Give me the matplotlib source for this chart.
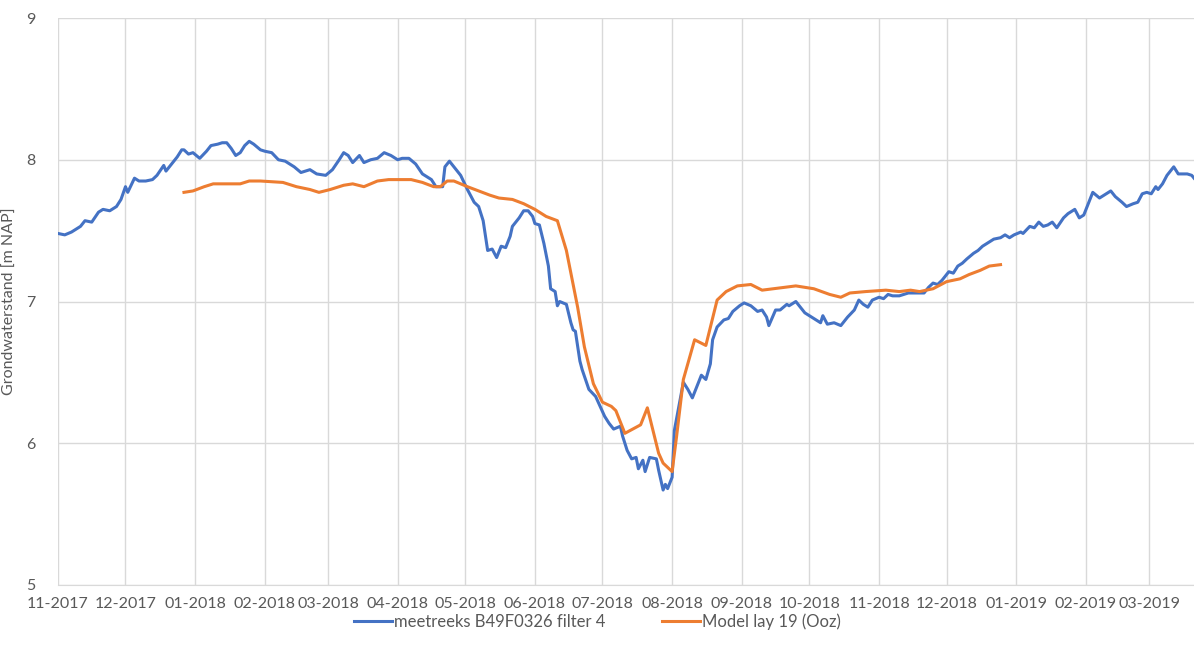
"""Grondwaterstand: meetreeks B49F0326 filter 4 vs. model lay 19 (Ooz)."""

import matplotlib
matplotlib.use("Agg")
import matplotlib.pyplot as plt
import matplotlib.dates as mdates
import numpy as np
import pandas as pd

START = pd.Timestamp("2017-11-01")
END = pd.Timestamp("2019-03-21")

# measured series: days since START, level [m NAP]
meas_day = [
    0, 3, 6, 10, 12, 15, 18, 20, 23, 26, 28, 30, 31, 34, 36, 39, 42, 44, 47, 48,
    51, 53, 55, 56, 58, 60, 63, 66, 68, 71, 73, 75, 77, 79, 81, 83, 85, 87, 90, 92,
    95, 98, 101, 105, 108, 112, 115, 119, 122, 125, 127, 129, 131, 134, 136, 139,
    142, 145, 148, 151, 153, 156, 159, 162, 166, 168, 171, 172, 174, 176, 179, 182,
    185, 187, 189, 191, 193, 195, 197, 199, 201, 202, 205, 207, 209, 211, 212, 214,
    216, 218, 219, 221, 222, 223, 226, 228, 229, 230, 232, 233, 236, 239, 241, 243,
    245, 247, 250, 251, 253, 255, 257, 258, 260, 261, 263, 266, 267, 269, 270, 271,
    273, 274, 276, 278, 280, 282, 284, 286, 288, 290, 291, 293, 296, 298, 300, 303,
    305, 308, 311, 313, 315, 316, 319, 321, 324, 325, 328, 329, 332, 334, 336, 339,
    340, 342, 345, 348, 351, 354, 356, 358, 360, 362, 365, 367, 369, 371, 374, 376,
    378, 382, 385, 387, 389, 391, 393, 396, 398, 400, 402, 404, 407, 409, 411, 413,
    416, 419, 421, 423, 425, 428, 429, 432, 434, 436, 438, 440, 442, 444, 447, 449,
    452, 454, 456, 458, 460, 463, 465, 468, 470, 473, 475, 478, 480, 482, 484, 486,
    488, 489, 491, 493, 496, 498, 502, 504, 505,
]
meas_level = [
    7.48, 7.47, 7.49, 7.53, 7.57, 7.56, 7.63, 7.65, 7.64, 7.67, 7.72, 7.81, 7.77, 7.87,
    7.85, 7.85, 7.86, 7.89, 7.96, 7.92, 7.98, 8.02, 8.07, 8.07, 8.04, 8.05, 8.01, 8.06,
    8.10, 8.11, 8.12, 8.12, 8.08, 8.03, 8.05, 8.10, 8.13, 8.11, 8.07, 8.06, 8.05, 8.00,
    7.99, 7.95, 7.91, 7.93, 7.90, 7.89, 7.93, 8.00, 8.05, 8.03, 7.98, 8.03, 7.98, 8.00,
    8.01, 8.05, 8.03, 8.00, 8.01, 8.01, 7.97, 7.90, 7.86, 7.81, 7.81, 7.95, 7.99, 7.95,
    7.89, 7.79, 7.70, 7.67, 7.57, 7.36, 7.37, 7.31, 7.39, 7.38, 7.46, 7.53, 7.59, 7.64,
    7.64, 7.60, 7.55, 7.54, 7.41, 7.25, 7.09, 7.07, 6.97, 7.00, 6.98, 6.85, 6.80, 6.79,
    6.58, 6.52, 6.38, 6.33, 6.26, 6.19, 6.14, 6.10, 6.12, 6.05, 5.95, 5.89, 5.90, 5.82,
    5.88, 5.80, 5.90, 5.89, 5.81, 5.67, 5.71, 5.68, 5.76, 6.09, 6.26, 6.43, 6.38, 6.32,
    6.40, 6.48, 6.45, 6.56, 6.73, 6.82, 6.87, 6.88, 6.93, 6.97, 6.99, 6.97, 6.93, 6.94,
    6.89, 6.83, 6.94, 6.94, 6.98, 6.97, 7.00, 6.98, 6.92, 6.90, 6.88, 6.85, 6.90, 6.84,
    6.85, 6.83, 6.89, 6.94, 7.01, 6.98, 6.96, 7.01, 7.03, 7.02, 7.05, 7.04, 7.04, 7.05,
    7.06, 7.06, 7.06, 7.10, 7.13, 7.12, 7.15, 7.21, 7.20, 7.25, 7.27, 7.30, 7.34, 7.36,
    7.39, 7.41, 7.44, 7.45, 7.47, 7.45, 7.47, 7.49, 7.48, 7.53, 7.52, 7.56, 7.53, 7.54,
    7.56, 7.52, 7.59, 7.62, 7.65, 7.59, 7.61, 7.69, 7.77, 7.73, 7.75, 7.78, 7.74, 7.70,
    7.67, 7.69, 7.70, 7.76, 7.77, 7.76, 7.81, 7.79, 7.83, 7.89, 7.95, 7.90, 7.90, 7.89,
    7.87,
]

# model series: days since START, level [m NAP]
model_day = [
    56, 60, 65, 69, 73, 81, 85, 90, 100, 106, 112, 116, 121, 127, 131, 136, 142, 147,
    152, 157, 162, 167, 170, 173, 176, 182, 187, 192, 196, 202, 207, 212, 217, 222,
    226, 231, 234, 238, 242, 246, 248, 252, 259, 262, 267, 269, 273, 275, 278, 283,
    288, 293, 297, 302, 308, 313, 318, 328, 336, 343, 348, 352, 359, 368, 374, 379,
    383, 389, 395, 401, 405, 410, 414, 419,
]
model_level = [
    7.77, 7.78, 7.81, 7.83, 7.83, 7.83, 7.85, 7.85, 7.84, 7.81, 7.79, 7.77, 7.79, 7.82,
    7.83, 7.81, 7.85, 7.86, 7.86, 7.86, 7.84, 7.81, 7.81, 7.85, 7.85, 7.81, 7.78, 7.75,
    7.73, 7.72, 7.69, 7.65, 7.60, 7.57, 7.36, 6.96, 6.68, 6.42, 6.29, 6.26, 6.23, 6.07,
    6.13, 6.25, 5.93, 5.86, 5.80, 6.05, 6.45, 6.73, 6.69, 7.01, 7.07, 7.11, 7.12, 7.08,
    7.09, 7.11, 7.09, 7.05, 7.03, 7.06, 7.07, 7.08, 7.07, 7.08, 7.07, 7.09, 7.14, 7.16,
    7.19, 7.22, 7.25, 7.26,
]

meas_label = "meetreeks B49F0326 filter 4"
model_label = "Model lay 19 (Ooz)"
y_label = "Grondwaterstand [m NAP]"

BLUE = "#4472C4"
ORANGE = "#ED7D31"
GRID = "#D9D9D9"
TEXT = "#595959"

plt.rcParams["font.family"] = ["Lato", "DejaVu Sans"]

meas_t = START + pd.to_timedelta(meas_day, unit="D")
model_t = START + pd.to_timedelta(model_day, unit="D")

fig = plt.figure(figsize=(11.94, 6.6), dpi=100)
ax = fig.add_axes([58 / 1194, 1 - 585 / 660, 1 - 58 / 1194, (585 - 18) / 660])

ax.plot(meas_t, meas_level, color=BLUE, lw=2.2, label=meas_label, zorder=3)
ax.plot(model_t, model_level, color=ORANGE, lw=2.2, label=model_label, zorder=3)

ax.set_xlim(START, END)
ax.set_ylim(5, 9)
ax.set_yticks([5, 6, 7, 8, 9])
ax.xaxis.set_major_locator(mdates.MonthLocator())
ax.xaxis.set_major_formatter(mdates.DateFormatter("%m-%Y"))

ax.grid(True, color=GRID, lw=1.0)
ax.set_axisbelow(True)
for side in ("top", "right", "left"):
    ax.spines[side].set_visible(False)
ax.spines["bottom"].set_color(GRID)
ax.tick_params(axis="both", length=0, labelsize=11.5, colors=TEXT)
ax.tick_params(axis="x", pad=9)
ax.tick_params(axis="y", pad=16)
ax.set_ylabel(y_label, fontsize=11.5, color=TEXT)
ax.yaxis.set_label_coords(-41 / 1136, 0.5)

leg = fig.legend(loc="center", bbox_to_anchor=(0.5, 1 - 622 / 660), ncol=2,
                 frameon=False, fontsize=12, handlelength=2.3,
                 columnspacing=3.4, handletextpad=0.1)
for t in leg.get_texts():
    t.set_color(TEXT)

fig.savefig("out.png", dpi=100)
